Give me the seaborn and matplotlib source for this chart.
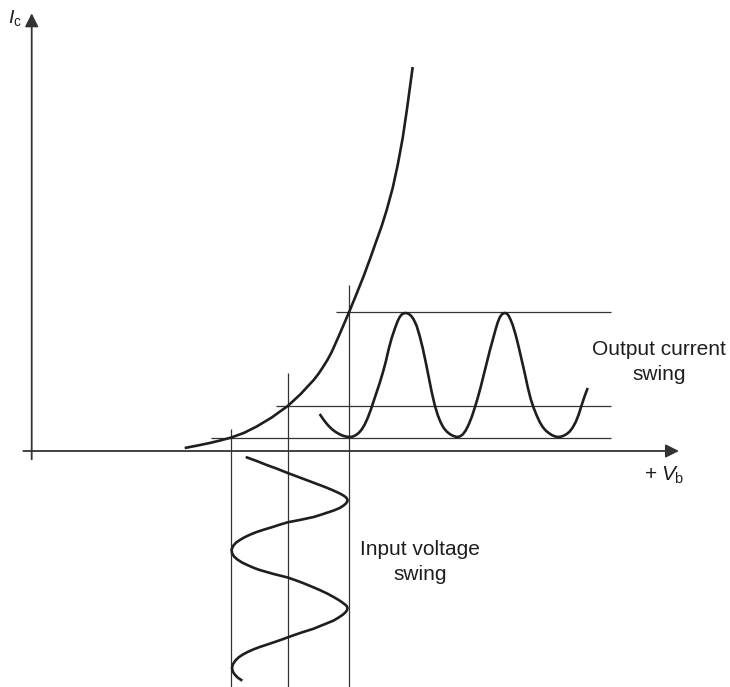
import matplotlib
matplotlib.use("Agg")
import matplotlib.pyplot as plt
import seaborn as sns
import pandas as pd

# ---- data (diagram units: 1 unit ~ 1 px, origin at axes crossing) ----
# transfer characteristic Ic(Vb)
curve_vb = [153, 165, 178, 188, 199, 212, 225, 240, 256, 262, 269, 275, 282, 287, 291, 296, 300, 308,
            317, 324, 332, 339, 345, 350, 355, 361, 366, 371, 375, 378, 381]
curve_ic = [3, 5.3, 8, 10.4, 13.3, 18, 24.5, 33.5, 45, 50.5, 57, 63.5, 71, 77.5, 83.5, 91.5, 99, 117,
            138, 155, 175, 194, 211, 225, 241, 263, 286, 313, 340, 362, 384]

# operating levels: input voltage extremes / bias, and resulting currents
vb_levels = [199, 256, 317]
ic_levels = [13, 45, 139]
vline_top = [22, 78, 166]
hline_start = [179, 244, 304]
hline_end = 579
vline_bottom = -236

# output current swing (Vb position, Ic)
out_vb = [288, 291, 294, 297, 300, 303, 306, 309, 312, 315, 318, 321, 324, 327, 330, 333, 336, 339,
          342, 345, 348, 351, 354, 357, 360, 363, 366, 368, 370, 372, 374,
          376, 378, 380, 382, 385, 388, 391, 394, 397, 400, 403, 406, 409, 412, 415, 418, 421, 425,
          428, 431, 434, 437, 440, 443, 446, 449, 452, 455, 458, 461, 464, 466, 468, 470, 472, 473,
          475, 477, 479, 481, 484, 487, 490, 493, 496, 499, 502, 505, 508, 511, 514, 517, 520, 523, 526,
          529, 532, 535, 538, 541, 544, 547, 550, 553, 556]
out_ic = [37, 32.5, 28.5, 25, 22, 19.7, 17.8, 16.2, 15, 14.3, 14, 14.4, 15.8, 18, 21.5, 26.5, 33, 41,
          50, 59, 68, 78, 89, 102, 113, 122, 130, 134, 136.5, 137.7, 138,
          137.6, 136.4, 134.5, 131.5, 125, 115, 103, 89, 74, 59, 46, 36, 28.5, 23, 19.5, 17, 15.3, 14,
          14.5, 16.5, 20.5, 26.5, 34, 43, 53, 64, 76, 88, 100, 111, 122, 128.5, 133.5, 136.5, 137.8, 138,
          137.6, 135.2, 131, 126, 116, 104, 91, 78, 64, 52, 43, 35.5, 29, 24, 20.5, 18, 16, 14.7, 14,
          14.3, 15.3, 17, 19.5, 23.5, 29, 36.5, 46, 55, 63]

# input voltage swing (Vb, time going downward)
in_vb = [214, 225, 235, 246, 256, 264, 272, 280, 288, 295, 301, 306, 309.5, 312.5, 314.7, 315.8, 315.6,
         314.3, 311.8, 308, 302, 296, 289, 282, 269, 256, 248, 240, 232, 225, 218.5, 213, 208.5, 204.5,
         201.5, 199.9, 200.3, 202.3, 205.8, 210.5, 216, 222, 228, 242, 256, 264, 272, 280, 288, 295, 301,
         306, 310, 313, 315, 315.8, 315.3, 313.7, 311, 307, 302, 296, 289, 282, 269, 257, 250, 243, 235,
         228, 222, 216.5, 211.5, 207, 203.5, 201.2, 200.3, 201, 203, 206, 210.6]
in_t = [-6, -10, -14, -18, -22, -25, -28, -31, -34, -36.7, -39.2, -41.5, -43.2, -45, -46.8, -48.6, -50.5,
        -52.4, -54.6, -57, -59.5, -61.5, -63.8, -66, -68.8, -71.3, -73.7, -76.3, -78.7, -81, -83.6, -86.2, -88.8, -91.5,
        -94.8, -98.5, -102, -105.5, -108.6, -111.6, -114.2, -116.8, -119, -123, -126.5, -129.3, -132.3, -135.6, -139, -142.3, -145.5,
        -148.4, -151, -153.3, -155, -157, -159.2, -161.4, -163.8, -166.5, -169.5, -172, -174.8, -177.7, -181.8, -186, -188.6, -191, -193.7,
        -196, -198.3, -200.7, -203.3, -206.3, -209.8, -213.3, -216.8, -220.3, -223.5, -226.6, -229.7]

# ---- figure ----
sns.set_theme(style="white")
plt.rcParams["font.family"] = ["Liberation Sans", "DejaVu Sans"]
plt.rcParams["mathtext.fontset"] = "custom"
plt.rcParams["mathtext.rm"] = "Liberation Sans"
plt.rcParams["mathtext.it"] = "Liberation Sans:italic"

fig = plt.figure(figsize=(7.3, 6.87), dpi=100)
ax = fig.add_axes([0, 0, 1, 1])

thin = dict(color="#333333", lw=0.9)
ax.vlines(vb_levels, ymin=vline_bottom, ymax=vline_top, **thin)
ax.hlines(ic_levels, xmin=hline_start, xmax=hline_end, **thin)

# axes with arrows
arrow = dict(arrowstyle="-|>,head_length=0.4,head_width=0.2", color="#333333", lw=1.3,
             shrinkA=0, shrinkB=0, mutation_scale=20)
ax.annotate("", xy=(0, 437.7), xytext=(0, -8.3), arrowprops=arrow)
ax.annotate("", xy=(647.3, 0), xytext=(-8.4, 0), arrowprops=arrow)

curve_style = dict(color="#1e1e1e", lw=1.9, estimator=None, sort=False, legend=False)
sns.lineplot(data=pd.DataFrame({"vb": curve_vb, "ic": curve_ic}), x="vb", y="ic", ax=ax, **curve_style)
sns.lineplot(data=pd.DataFrame({"vb": out_vb, "ic": out_ic}), x="vb", y="ic", ax=ax, **curve_style)
sns.lineplot(data=pd.DataFrame({"vb": in_vb, "t": in_t}), x="vb", y="t", ax=ax, **curve_style)
for ln in ax.get_lines():
    ln.set_solid_joinstyle("round")
    ln.set_solid_capstyle("butt")
ax.set_xlim(-31.7, 698.3)
ax.set_ylim(-236, 451)
ax.axis("off")

tc = "#1e1e1e"
ax.text(-24, 427.5, r"$I_{\mathrm{c}}$", fontsize=14, color=tc, ha="left", va="baseline")
ax.text(619.3, -29.5, "+", fontsize=15, color=tc, ha="center", va="baseline")
ax.text(629, -29.5, r"$V_{\mathrm{b}}$", fontsize=15, color=tc, ha="left", va="baseline")
ax.text(627.3, 96, "Output current", fontsize=15, color=tc, ha="center", va="baseline")
ax.text(627.3, 71, "swing", fontsize=15, color=tc, ha="center", va="baseline")
ax.text(388.3, -104, "Input voltage", fontsize=15, color=tc, ha="center", va="baseline")
ax.text(388.3, -128.5, "swing", fontsize=15, color=tc, ha="center", va="baseline")

fig.savefig("out.png", dpi=100)
